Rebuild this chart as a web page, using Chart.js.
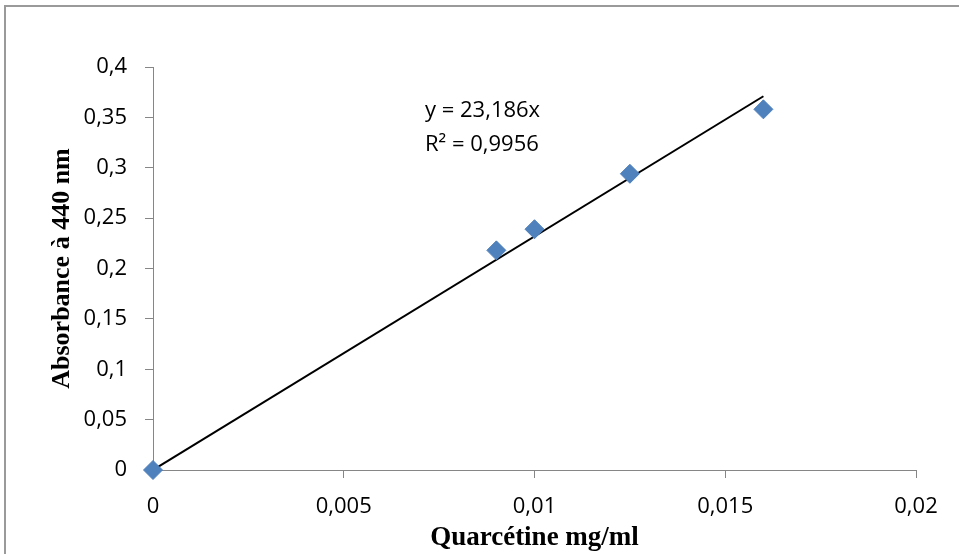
<!DOCTYPE html>
<html>
<head>
<meta charset="utf-8">
<script src="https://cdn.jsdelivr.net/npm/chart.js@4/dist/chart.umd.min.js"></script>
<style>
  html,body{margin:0;padding:0;background:#fff;}
  #wrap{position:relative;width:959px;height:554px;}
</style>
</head>
<body>
<div id="wrap"><canvas id="chart"></canvas></div>
<script>
"use strict";
// concentrations (mg/ml) et absorbances mesurées
const concentrations=[0,0.009,0.01,0.0125,0.016];
const absorbances=[0,0.218,0.239,0.294,0.358];
// droite de tendance (passe par l'origine)
const pente=23.186;
const trendX=[0,0.016];
const equationLines=["y = 23,186x","R² = 0,9956"];
const xTicks=[0,0.005,0.01,0.015,0.02];
const yTicks=[0,0.05,0.1,0.15,0.2,0.25,0.3,0.35,0.4];

const axisColor="#868686";
const labelFont={family:"'Open Sans', sans-serif",size:22};

function virgule(v){
    return String(Number(v.toFixed(4))).replace(".",",");
}

// cadre et texte de l'équation
const decorPlugin={
    id:"decor",
    beforeDraw(chart){
        const ctx=chart.ctx;
        ctx.save();
        ctx.fillStyle="#fff";
        ctx.fillRect(0,0,chart.width,chart.height);
        ctx.strokeStyle="#9a9a9a";
        ctx.lineWidth=2;
        ctx.strokeRect(5,6,chart.width+10,chart.height+10);
        ctx.restore();
    },
    afterDatasetsDraw(chart){
        const ctx=chart.ctx;
        ctx.save();
        ctx.fillStyle="#000";
        ctx.font=labelFont.size+"px "+labelFont.family;
        ctx.textBaseline="middle";
        const ex=chart.chartArea.left+272;
        ctx.fillText(equationLines[0],ex,111);
        ctx.fillText(equationLines[1],ex,145);
        ctx.restore();
    }
};

const data={
    datasets:[{
        type:"line",
        data:trendX.map(v=>({x:v,y:pente*v})),
        borderColor:"#000",
        borderWidth:2,
        pointRadius:0,
        fill:false,
        order:2
    },{
        type:"scatter",
        data:concentrations.map((c,i)=>({x:c,y:absorbances[i]})),
        pointStyle:"rectRot",
        pointRadius:9.5,
        pointHoverRadius:9.5,
        backgroundColor:"#4F81BD",
        borderColor:"#4F81BD",
        borderWidth:1,
        clip:false,
        order:1
    }]
};

const options={
    responsive:true,
    maintainAspectRatio:false,
    animation:false,
    events:[],
    layout:{padding:{top:67,right:43,left:47,bottom:0}},
    plugins:{legend:{display:false},tooltip:{enabled:false}},
    scales:{
        x:{
            type:"linear",
            min:0,max:0.02,
            afterBuildTicks(scale){scale.ticks=xTicks.map(v=>({value:v}));},
            afterFit(scale){scale.height=84;},
            border:{display:true,color:axisColor,width:1},
            grid:{
                display:true,
                drawOnChartArea:false,
                drawTicks:true,
                tickLength:8,
                color:axisColor
            },
            ticks:{
                padding:16,
                color:"#000",
                font:labelFont,
                maxRotation:0,
                callback:v=>virgule(v)
            },
            title:{
                display:true,
                text:"Quarcétine mg/ml",
                color:"#000",
                font:{family:"'Liberation Serif', serif",size:27,weight:"bold"},
                padding:{top:0,bottom:0}
            }
        },
        y:{
            type:"linear",
            min:0,max:0.4,
            afterBuildTicks(scale){scale.ticks=yTicks.map(v=>({value:v}));},
            afterFit(scale){scale.width=106;},
            border:{display:true,color:axisColor,width:1},
            grid:{
                display:true,
                drawOnChartArea:false,
                drawTicks:true,
                tickLength:8,
                color:axisColor
            },
            ticks:{
                padding:18,
                color:"#000",
                font:labelFont,
                callback:v=>virgule(v)
            },
            title:{
                display:true,
                text:"Absorbance à 440 nm",
                color:"#000",
                font:{family:"'Liberation Serif', serif",size:26,weight:"bold"},
                padding:{top:0,bottom:0}
            }
        }
    }
};

new Chart(document.getElementById("chart"),{data,options,plugins:[decorPlugin]});
</script>
</body>
</html>
